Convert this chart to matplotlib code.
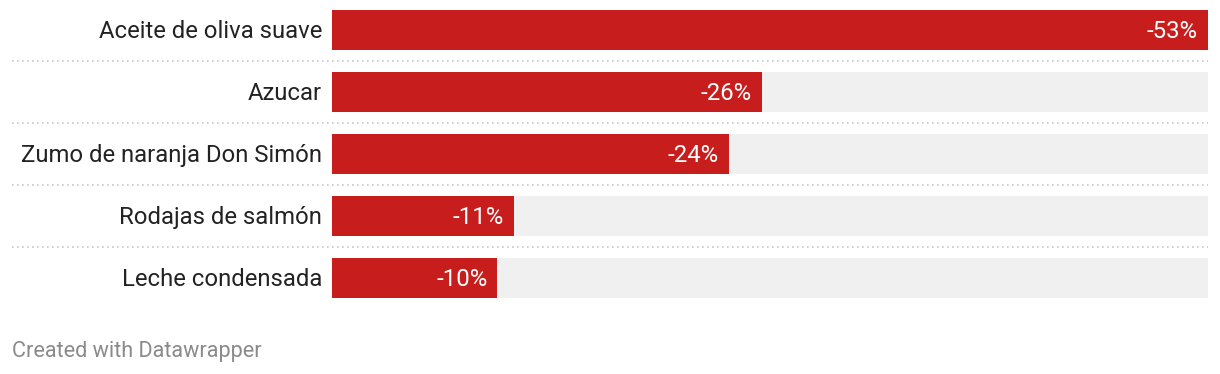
import matplotlib
matplotlib.use("Agg")
import matplotlib.pyplot as plt
from matplotlib.transforms import blended_transform_factory, offset_copy

categories = ["Aceite de oliva suave", "Azucar", "Zumo de naranja Don Simón",
              "Rodajas de salmón", "Leche condensada"]
values = [-53, -26, -24, -11, -10]

plt.rcParams['font.family'] = ['Roboto', 'DejaVu Sans']

W, H = 1220, 374
fig = plt.figure(figsize=(W / 100, H / 100), dpi=100)
top_px, bot_px = -1, 309
ax = fig.add_axes([332 / W, (H - bot_px) / H, 876 / W, (bot_px - top_px) / H])

maxv = max(abs(v) for v in values)
ypos = list(range(len(categories)))
ax.barh(ypos, [maxv] * len(values), height=40 / 62, color="#f0f0f0", linewidth=0)
ax.barh(ypos, [abs(v) for v in values], height=40 / 62, color="#c71e1d", linewidth=0)
ax.set_xlim(0, maxv)
ax.set_ylim(len(categories) - 0.5, -0.5)
ax.axis("off")

tr = blended_transform_factory(fig.transFigure, ax.transData)
for i in range(len(categories) - 1):
    ax.plot([12 / W, 1208 / W], [i + 0.5, i + 0.5], transform=tr, color="#c8c8c8",
            linestyle=(0, (1, 2)), linewidth=1.2, clip_on=False)

lab_tr = offset_copy(tr, fig=fig, x=0, y=-1.5, units="dots")
val_tr = offset_copy(ax.transData, fig=fig, x=-10, y=-1.5, units="dots")
for i, (c, v) in enumerate(zip(categories, values)):
    ax.text(322 / W, i, c, transform=lab_tr, ha="right", va="center",
            fontsize=17.2, color="#222222")
    ax.text(abs(v), i, f"{v}%", transform=val_tr, ha="right", va="center",
            fontsize=17.2, color="white")

fig.text(12 / W, 1 - 352 / H, "Created with Datawrapper", ha="left", va="center",
         fontsize=15.6, color="#8a8a8a")

fig.savefig("out.png", dpi=100)
